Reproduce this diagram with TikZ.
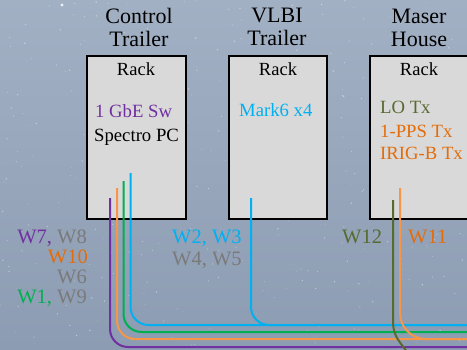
\documentclass[tikz,border=0pt]{standalone}
\usepackage{fontspec}
\setmainfont{Liberation Serif}
\definecolor{bgtop}{RGB}{162,176,196}
\definecolor{bgbot}{RGB}{140,156,178}
\definecolor{boxgray}{RGB}{217,217,217}
\definecolor{cpurple}{RGB}{112,48,160}
\definecolor{ccyan}{RGB}{0,176,240}
\definecolor{cgreen}{RGB}{0,176,80}
\definecolor{corange}{RGB}{247,150,70}
\definecolor{corangetxt}{RGB}{228,108,10}
\definecolor{colive}{RGB}{88,106,48}
\definecolor{cgraytxt}{RGB}{122,122,122}
\begin{document}
\begin{tikzpicture}[x=1pt,y=-1pt,
  rackbox/.style={draw=black,line width=2pt,fill=boxgray},
  title/.style={font=\fontsize{22}{24}\selectfont,anchor=base,inner sep=0pt},
  body/.style={font=\fontsize{18.7}{21}\selectfont,anchor=base west,inner sep=0pt},
  rackname/.style={font=\fontsize{18.5}{21}\selectfont,anchor=base,inner sep=0pt},
  wlabel/.style={font=\fontsize{20.5}{23}\selectfont,inner sep=0pt},
  cable/.style={line width=2pt,rounded corners=18pt}]
\useasboundingbox (0,0) rectangle (467,349);
\clip (0,0) rectangle (467,349);
\shade[top color=bgtop,bottom color=bgbot] (0,0) rectangle (467,349);
\pgfmathsetseed{11}
\foreach \i in {1,...,400}{
  \pgfmathsetmacro{\sx}{rnd*467}
  \pgfmathsetmacro{\sy}{rnd*349}
  \pgfmathsetmacro{\sr}{0.25+rnd*0.55}
  \fill[white,opacity=0.45] (\sx,\sy) circle (\sr pt);
}
\fill[white,opacity=0.8] (62,5) circle (1.6pt);
% boxes
\node[rackbox,minimum width=99pt,minimum height=163pt,anchor=north west,inner sep=0pt] (box1) at (86,55) {};
\node[rackbox,minimum width=98pt,minimum height=163pt,anchor=north west,inner sep=0pt] (box2) at (228,55) {};
\node[rackbox,minimum width=111pt,minimum height=163pt,anchor=north west,inner sep=0pt] (box3) at (369,55) {};
% titles
\node[title] (t1a) at (139,23) {Control};
\node[title] (t1b) at (139,46) {Trailer};
\node[title] (t2a) at (277,22) {VLBI};
\node[title] (t2b) at (277,45) {Trailer};
\node[title] (t3a) at (419,23) {Maser};
\node[title] (t3b) at (419,46) {House};
\node[rackname] (r1) at (136,75) {Rack};
\node[rackname] (r2) at (278,75) {Rack};
\node[rackname] (r3) at (419,75) {Rack};
% box contents
\node[body,text=cpurple] (sw) at (95,117) {1 GbE Sw};
\node[body] (pc) at (94,141) {Spectro PC};
\node[body,text=ccyan] (m6) at (239,116) {Mark6 x4};
\node[body,text=colive] (lo) at (380,113) {LO Tx};
\node[body,text=corangetxt] (pps) at (380,137) {1-PPS Tx};
\node[body,text=corangetxt] (irig) at (380,159) {IRIG-B Tx};
% wire labels
\node[wlabel,anchor=base east] (l1) at (87,243) {\textcolor{cpurple}{W7,} \textcolor{cgraytxt}{W8}};
\node[wlabel,anchor=base east,text=corangetxt] (l2) at (88,263) {W10};
\node[wlabel,anchor=base east,text=cgraytxt] (l3) at (87,283) {W6};
\node[wlabel,anchor=base east] (l4) at (87,303) {\textcolor{cgreen}{W1,} \textcolor{cgraytxt}{W9}};
\node[wlabel,anchor=base west] (l5) at (172,243) {\textcolor{ccyan}{W2, W3}};
\node[wlabel,anchor=base west,text=cgraytxt] (l6) at (172,265) {W4, W5};
\node[wlabel,anchor=base west,text=colive] (l7) at (342,243) {W12};
\node[wlabel,anchor=base west,text=corangetxt] (l8) at (408,243) {W11};
% cable endpoints
\coordinate (cy1) at (130.5,173);
\coordinate (gr1) at (123.5,181);
\coordinate (or1) at (117,188);
\coordinate (pu1) at (110,198);
\coordinate (cy2) at (251,198);
\coordinate (or2) at (400,188);
\coordinate (ol1) at (393,200);
\coordinate (eR1) at (470,325);
\coordinate (eR2) at (470,332);
\coordinate (eR3) at (470,339);
\coordinate (eR4) at (470,347);
\coordinate (olend) at (407,352);
% cables
\draw[cable,ccyan] (cy2) |- (eR1);
\draw[cable,ccyan] (cy1) |- (eR1);
\draw[cable,cgreen] (gr1) |- (eR2);
\draw[cable,corange,rounded corners=26pt] (or2) |- (eR3);
\draw[cable,corange] (or1) |- (eR3);
\draw[cable,cpurple] (pu1) |- (eR4);
\draw[line width=2pt,colive] (ol1) -- (393,322) .. controls (393,336) and (400,342) .. (olend);
\end{tikzpicture}
\end{document}
